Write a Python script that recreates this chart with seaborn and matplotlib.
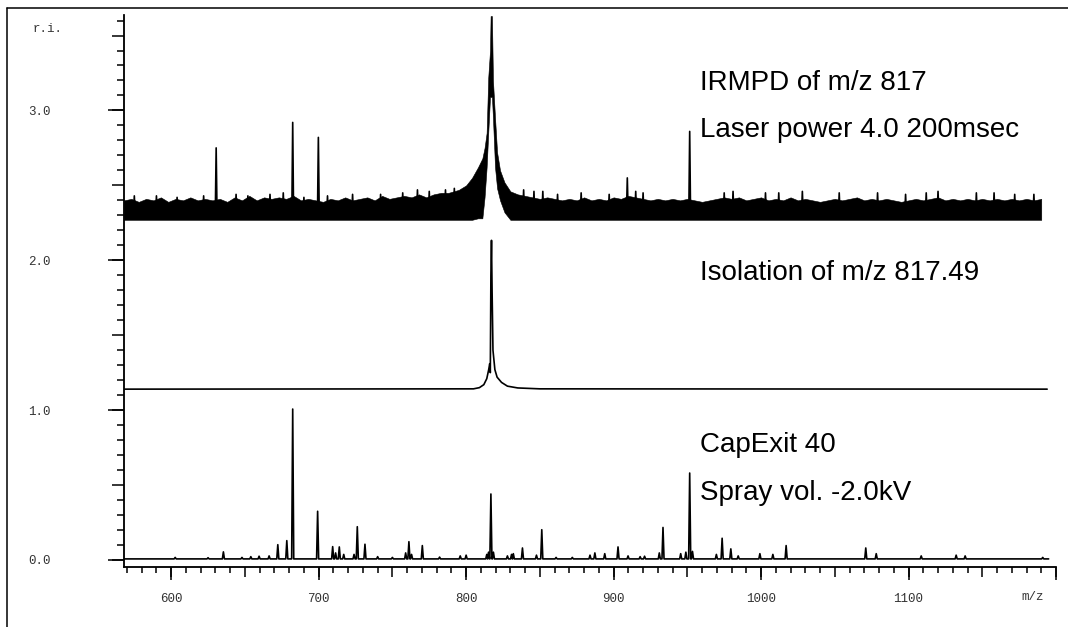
import numpy as np
import pandas as pd
import matplotlib
matplotlib.use("Agg")
import matplotlib.pyplot as plt
from matplotlib.ticker import MultipleLocator, FixedLocator, FixedFormatter
from matplotlib.lines import Line2D
import seaborn as sns

# ---------------- data ----------------
# Bottom trace: CapExit 40 / Spray vol. -2.0 kV (stick peaks: m/z, relative intensity)
cap_mz = [602.7, 625.0, 635.4, 648.0, 654.0, 659.6, 666.4, 672.3, 678.4, 682.4,
          699.3, 709.5, 711.5, 714.0, 717.0, 724.0, 726.2, 731.4, 740.0, 750.0,
          759.0, 761.2, 763.0, 770.3, 782.0, 796.0, 800.0, 814.0, 815.2, 816.8,
          818.5, 828.0, 830.8, 832.0, 838.2, 847.7, 851.3, 861.0, 872.0, 884.0,
          887.3, 894.0, 903.0, 909.8, 918.0, 921.0, 931.0, 933.5, 945.5, 949.0,
          951.6, 953.5, 969.7, 973.6, 979.5, 984.5, 999.2, 1008.0, 1017.0, 1071.0,
          1078.1, 1108.6, 1132.3, 1138.4, 1191.0]
cap_int = [0.010, 0.008, 0.047, 0.010, 0.015, 0.018, 0.020, 0.095, 0.122, 1.000,
           0.318, 0.082, 0.040, 0.080, 0.030, 0.030, 0.215, 0.098, 0.015, 0.010,
           0.040, 0.115, 0.030, 0.089, 0.012, 0.020, 0.025, 0.030, 0.045, 0.433,
           0.045, 0.020, 0.030, 0.035, 0.073, 0.025, 0.195, 0.010, 0.010, 0.025,
           0.040, 0.035, 0.080, 0.020, 0.015, 0.018, 0.040, 0.210, 0.035, 0.045,
           0.573, 0.050, 0.030, 0.138, 0.067, 0.020, 0.035, 0.030, 0.089, 0.073,
           0.035, 0.020, 0.025, 0.020, 0.010]
cap_base = 0.007

# Middle trace: isolation of m/z 817.49 (profile, offset baseline 1.14)
iso_mz = [568, 805, 809, 812, 814, 815.3, 816.0, 816.4, 816.8, 817.2, 817.6, 818.2,
          819.5, 821, 824, 828, 835, 850, 1194]
iso_int = [1.140, 1.142, 1.150, 1.170, 1.210, 1.270, 1.310, 1.250, 1.900, 2.133,
           1.800, 1.400, 1.270, 1.220, 1.185, 1.160, 1.148, 1.142, 1.140]

# Top trace: IRMPD of m/z 817 (noise band + spikes, offset baseline ~2.27)
noise_floor = 2.27
noise_left_mz = list(range(568, 791, 5))
noise_left_hi = [2.40, 2.41, 2.39, 2.41, 2.40, 2.42, 2.39, 2.41, 2.40, 2.42,
                 2.40, 2.41, 2.40, 2.41, 2.39, 2.42, 2.40, 2.43, 2.40, 2.42,
                 2.41, 2.42, 2.41, 2.43, 2.40, 2.41, 2.40, 2.39, 2.41, 2.40,
                 2.42, 2.40, 2.41, 2.42, 2.40, 2.43, 2.41, 2.42, 2.43, 2.42,
                 2.44, 2.42, 2.44, 2.45, 2.45]
noise_right_mz = list(range(835, 1192, 5))
noise_right_hi = [2.44, 2.43, 2.42, 2.41, 2.42, 2.41, 2.40, 2.41, 2.40, 2.42,
                  2.40, 2.41, 2.40, 2.42, 2.41, 2.43, 2.42, 2.41, 2.40, 2.41,
                  2.40, 2.41, 2.40, 2.41, 2.40, 2.39, 2.40, 2.41, 2.42, 2.41,
                  2.42, 2.40, 2.41, 2.42, 2.40, 2.41, 2.40, 2.42, 2.40, 2.41,
                  2.40, 2.39, 2.40, 2.41, 2.40, 2.41, 2.42, 2.40, 2.41, 2.40,
                  2.41, 2.40, 2.39, 2.40, 2.41, 2.40, 2.41, 2.42, 2.40, 2.41,
                  2.40, 2.41, 2.40, 2.41, 2.40, 2.41, 2.40, 2.41, 2.40, 2.41,
                  2.40, 2.41]
peak_mz = [795, 800, 804, 808, 811, 812.5, 813.9, 815.0, 816.2, 816.6, 817.5,
           818.2, 819.6, 821, 823, 826, 830]
peak_hi = [2.47, 2.50, 2.55, 2.62, 2.68, 2.75, 2.85, 3.22, 3.40, 3.63, 3.63,
           3.20, 2.95, 2.72, 2.60, 2.52, 2.46]
peak_lo = [2.27, 2.27, 2.27, 2.28, 2.28, 2.42, 2.62, 2.85, 3.09, 3.09, 3.09,
           2.95, 2.62, 2.48, 2.40, 2.32, 2.27]
spike_mz = [630.5, 682.4, 699.8, 909.3, 951.6,
            575, 590, 604, 622, 644, 652, 667, 676, 690, 706, 723, 742, 757,
            767, 775, 786, 792, 839, 846, 852, 862, 878, 897, 915, 920, 975,
            981, 1003, 1012, 1028, 1053, 1079, 1098, 1112, 1120, 1146, 1158,
            1172, 1185]
spike_int = [2.75, 2.92, 2.82, 2.55, 2.86,
             2.43, 2.43, 2.42, 2.43, 2.44, 2.43, 2.44, 2.45, 2.42, 2.43, 2.44,
             2.44, 2.45, 2.47, 2.46, 2.47, 2.48, 2.47, 2.46, 2.46, 2.44, 2.45,
             2.44, 2.46, 2.45, 2.45, 2.46, 2.45, 2.45, 2.46, 2.45, 2.45, 2.44,
             2.45, 2.46, 2.45, 2.45, 2.44, 2.44]
spike_base = 2.30

y_major = [0.0, 1.0, 2.0, 3.0]
y_labels = ["0.0", "1.0", "2.0", "3.0"]
x_major = [600, 700, 800, 900, 1000, 1100, 1200]
x_labels = ["600", "700", "800", "900", "1000", "1100", ""]

annotations = [("IRMPD of m/z 817", 90), ("Laser power 4.0 200msec", 137),
               ("Isolation of m/z 817.49", 280), ("CapExit 40", 452),
               ("Spray vol. -2.0kV", 500)]

# ---------------- figure ----------------
sns.set_theme(style="ticks")
plt.rcParams["font.family"] = ["Liberation Sans", "DejaVu Sans"]

W, H = 1068, 627
fig = plt.figure(figsize=(W / 100, H / 100), dpi=100)
ax = fig.add_axes([124 / W, 1 - 567 / H, 932 / W, 552 / H])


def sticks(mz, inten, base, x0, x1, hw=0.7):
    xs, ys = [x0], [base]
    for m, h in zip(mz, inten):
        xs += [m - hw, m, m + hw]
        ys += [base, base + h, base]
    xs.append(x1)
    ys.append(base)
    return pd.DataFrame({"mz": xs, "ri": ys})


def separate_sticks(mz, inten, base, hw=0.6):
    xs, ys, us = [], [], []
    for i, (m, h) in enumerate(zip(mz, inten)):
        xs += [m - hw, m, m + hw]
        ys += [base, h, base]
        us += [i, i, i]
    return pd.DataFrame({"mz": xs, "ri": ys, "unit": us})


lw = 1.2
# bottom
df_cap = sticks(cap_mz, cap_int, cap_base, 568, 1195)
sns.lineplot(data=df_cap, x="mz", y="ri", estimator=None, sort=False,
             color="black", lw=lw, ax=ax)
# middle
df_iso = pd.DataFrame({"mz": iso_mz, "ri": iso_int})
sns.lineplot(data=df_iso, x="mz", y="ri", estimator=None, sort=False,
             color="black", lw=lw, ax=ax)
# top noise band
band_mz = noise_left_mz + peak_mz + noise_right_mz
band_hi = noise_left_hi + peak_hi + noise_right_hi
band_lo = [noise_floor] * len(noise_left_mz) + peak_lo + [noise_floor] * len(noise_right_mz)
ax.fill_between(band_mz, band_lo, band_hi, facecolor="black", lw=0.4, edgecolor="black")
df_sp = separate_sticks(spike_mz, spike_int, spike_base)
sns.lineplot(data=df_sp, x="mz", y="ri", units="unit", estimator=None, sort=False,
             color="black", lw=lw, ax=ax)

ax.set_xlim(568, 1200)
ax.set_ylim(-0.047, 3.637)
ax.set_xlabel("")
ax.set_ylabel("")
for s in ["top", "right"]:
    ax.spines[s].set_visible(False)
for s in ["left", "bottom"]:
    ax.spines[s].set_linewidth(1.1)
    ax.spines[s].set_color("black")

ax.yaxis.set_major_locator(MultipleLocator(0.5))
ax.yaxis.set_minor_locator(MultipleLocator(0.1))
ax.xaxis.set_major_locator(MultipleLocator(50))
ax.xaxis.set_minor_locator(MultipleLocator(10))
ax.tick_params(axis="both", which="both", direction="out", color="black",
               labelleft=False, labelbottom=False, width=1.1)
ax.tick_params(axis="y", which="major", length=8.6)
ax.tick_params(axis="y", which="minor", length=5)
ax.tick_params(axis="x", which="major", length=7.2)
ax.tick_params(axis="x", which="minor", length=4.3)

mono = {"family": "Liberation Mono", "size": 9, "color": "#333333"}

sy = ax.secondary_yaxis("left")
sy.yaxis.set_major_locator(FixedLocator(y_major))
sy.yaxis.set_major_formatter(FixedFormatter(y_labels))
sy.tick_params(axis="y", direction="out", length=11.5, width=1.1, pad=41, color="black")
sy.spines["left"].set_linewidth(1.1)
for t in sy.get_yticklabels():
    t.set_fontfamily(mono["family"]); t.set_fontsize(mono["size"]); t.set_color(mono["color"])

sx = ax.secondary_xaxis("bottom")
sx.xaxis.set_major_locator(FixedLocator(x_major))
sx.xaxis.set_major_formatter(FixedFormatter(x_labels))
sx.tick_params(axis="x", direction="out", length=9.4, width=1.1, pad=9, color="black")
sx.spines["bottom"].set_linewidth(1.1)
for t in sx.get_xticklabels():
    t.set_fontfamily(mono["family"]); t.set_fontsize(mono["size"]); t.set_color(mono["color"])

fig.text(1033 / W, 1 - 597 / H, "m/z", ha="center", va="center", **mono)
fig.text(48 / W, 1 - 29 / H, "r.i.", ha="center", va="center", **mono)

for txt, yb in annotations:
    fig.text(700 / W, 1 - yb / H, txt, fontsize=20, va="baseline", ha="left",
             color="black", family=["Liberation Sans", "DejaVu Sans"])

# outer frame (left and top edges visible)
fig.add_artist(Line2D([7 / W, 7 / W], [0, 1 - 8 / H], transform=fig.transFigure,
                      color="black", lw=1.1))
fig.add_artist(Line2D([7 / W, 1], [1 - 8 / H, 1 - 8 / H], transform=fig.transFigure,
                      color="black", lw=1.1))

fig.savefig("out.png", dpi=100, facecolor="white")
